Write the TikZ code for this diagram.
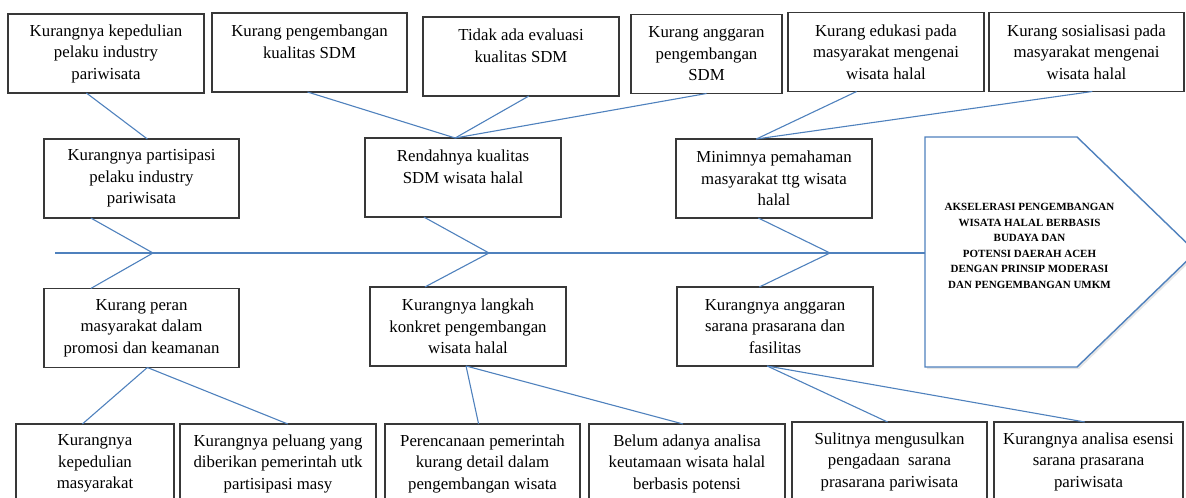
\documentclass[tikz,border=0pt]{standalone}
\usepackage{fontspec}
\setmainfont{Liberation Serif}
\usepackage{tikz}
\usetikzlibrary{calc, shadows}

\definecolor{bonecol}{HTML}{4F81BD}
\definecolor{framecol}{HTML}{383838}

\begin{document}
\begin{tikzpicture}[x=0.5pt, y=-0.5pt,
        box/.style={rectangle, draw=framecol, fill=white, line width=0.6pt, minimum width=98pt, minimum height=39.5pt, inner sep=0pt, outer sep=0pt, align=center, font=\fontsize{8.4}{10.75}\selectfont},
        bone/.style={draw=bonecol, line width=0.55pt},
        goaltext/.style={align=center, font=\fontsize{5.5}{7.75}\selectfont\bfseries}
    ]
        \clip (0,0) rectangle (1186,497);

        % top row
        \node[box] (t1) at (106,53.5) {Kurangnya kepedulian\\pelaku industry\\pariwisata};
        \node[box, minimum width=97.5pt] (t2) at (309.5,52.5) {Kurang pengembangan\\kualitas SDM\\~};
        \node[box] (t3) at (521,56.5) {Tidak ada evaluasi\\kualitas SDM\\~};
        \node[box, minimum width=75.5pt] (t4) at (706.5,54) {Kurang anggaran\\pengembangan\\SDM};
        \node[box] (t5) at (886,52) {Kurang edukasi pada\\masyarakat mengenai\\wisata halal};
        \node[box, minimum width=97.5pt] (t6) at (1086.5,52) {Kurang sosialisasi pada\\masyarakat mengenai\\wisata halal};

        % causes above the spine
        \node[box, minimum width=97.5pt] (m1) at (141.5,178.5) {Kurangnya partisipasi\\pelaku industry\\pariwisata};
        \node[box] (m2) at (463,177.5) {Rendahnya kualitas\\SDM wisata halal\\~};
        \node[box] (m3) at (774,178.5) {Minimnya pemahaman\\masyarakat ttg wisata\\halal};

        % causes below the spine
        \node[box, minimum width=97.5pt] (b1) at (141.5,328) {Kurang peran\\masyarakat dalam\\promosi dan keamanan};
        \node[box] (b2) at (468,326.5) {Kurangnya langkah\\konkret pengembangan\\wisata halal};
        \node[box] (b3) at (775,326.5) {Kurangnya anggaran\\sarana prasarana dan\\fasilitas};

        % bottom row
        \node[box, minimum width=79pt] (r1) at (95,463.5) {Kurangnya\\kepedulian\\masyarakat};
        \node[box] (r2) at (278,463.5) {Kurangnya peluang yang\\diberikan pemerintah utk\\partisipasi masy};
        \node[box, minimum width=97.5pt] (r3) at (482.5,463.5) {Perencanaan pemerintah\\kurang detail dalam\\pengembangan wisata};
        \node[box] (r4) at (687,463.5) {Belum adanya analisa\\keutamaan wisata halal\\berbasis potensi};
        \node[box, minimum width=97.5pt] (r5) at (889.5,461.5) {Sulitnya mengusulkan\\pengadaan\ \ sarana\\prasarana pariwisata};
        \node[box, minimum width=94.5pt] (r6) at (1088.5,461.5) {Kurangnya analisa esensi\\sarana prasarana\\pariwisata};

        % head of the fish
        \draw[draw=bonecol, line width=0.7pt, fill=white, drop shadow={opacity=0.2, shadow xshift=1pt, shadow yshift=-1pt}]
            (925,137) -- (1077,137) -- (1196,252) -- (1077,367) -- (925,367) -- cycle;
        \node[goaltext] (goal) at (1029.5,246) {AKSELERASI PENGEMBANGAN\\WISATA HALAL BERBASIS\\BUDAYA DAN\\POTENSI DAERAH ACEH\\DENGAN PRINSIP MODERASI\\DAN PENGEMBANGAN UMKM};

        % spine
        \coordinate (tail) at (55,253);
        \coordinate (head) at (925,253);
        \coordinate (j1) at (153,253);
        \coordinate (j2) at (489,253);
        \coordinate (j3) at (830,253);
        \draw[bone] (tail) -- (head);

        \draw[bone] ($(m1.south west)!0.24!(m1.south east)$) -- (j1) -- ($(b1.north west)!0.24!(b1.north east)$);
        \draw[bone] ($(m2.south west)!0.30!(m2.south east)$) -- (j2) -- ($(b2.north west)!0.28!(b2.north east)$);
        \draw[bone] ($(m3.south west)!0.42!(m3.south east)$) -- (j3) -- ($(b3.north west)!0.42!(b3.north east)$);

        % sub causes
        \draw[bone] ($(t1.south west)!0.40!(t1.south east)$) -- ($(m1.north west)!0.53!(m1.north east)$);
        \draw[bone] ($(t2.south west)!0.49!(t2.south east)$) -- ($(m2.north west)!0.46!(m2.north east)$);
        \draw[bone] ($(t3.south west)!0.54!(t3.south east)$) -- ($(m2.north west)!0.46!(m2.north east)$);
        \draw[bone] ($(t4.south west)!0.50!(t4.south east)$) -- ($(m2.north west)!0.46!(m2.north east)$);
        \draw[bone] ($(t5.south west)!0.35!(t5.south east)$) -- ($(m3.north west)!0.41!(m3.north east)$);
        \draw[bone] ($(t6.south west)!0.53!(t6.south east)$) -- ($(m3.north west)!0.41!(m3.north east)$);

        \draw[bone] ($(b1.south west)!0.53!(b1.south east)$) -- ($(r1.north west)!0.42!(r1.north east)$);
        \draw[bone] ($(b1.south west)!0.53!(b1.south east)$) -- ($(r2.north west)!0.55!(r2.north east)$);
        \draw[bone] ($(b2.south west)!0.49!(b2.south east)$) -- ($(r3.north west)!0.48!(r3.north east)$);
        \draw[bone] ($(b2.south west)!0.49!(b2.south east)$) -- ($(r4.north west)!0.48!(r4.north east)$);
        \draw[bone] ($(b3.south west)!0.46!(b3.south east)$) -- ($(r5.north west)!0.49!(r5.north east)$);
        \draw[bone] ($(b3.south west)!0.46!(b3.south east)$) -- ($(r6.north west)!0.48!(r6.north east)$);
    \end{tikzpicture}
\end{document}
